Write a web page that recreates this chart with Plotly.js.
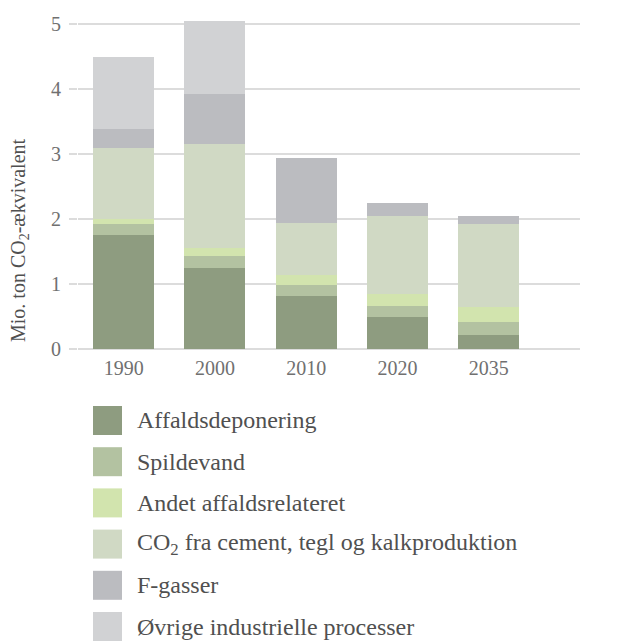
<!DOCTYPE html>
<html>
<head>
<meta charset="utf-8">
<script src="https://cdn.plot.ly/plotly-3.0.1.min.js"></script>
<style>html,body{margin:0;padding:0;background:#fff;}#chart{width:619px;height:641px;}</style>
</head>
<body>
<div id="chart"></div>
<script>
const years = ["1990", "2000", "2010", "2020", "2035"];
const seriesNames = ["Affaldsdeponering", "Spildevand", "Andet affaldsrelateret", "CO<sub>2</sub> fra cement, tegl og kalkproduktion", "F-gasser", "Øvrige industrielle processer"];
const affaldsdeponering = [1.75, 1.25, 0.82, 0.49, 0.22];
const spildevand = [0.17, 0.18, 0.17, 0.17, 0.20];
const andetAffald = [0.08, 0.12, 0.15, 0.19, 0.22];
const co2Cement = [1.10, 1.60, 0.80, 1.20, 1.29];
const fGasser = [0.29, 0.78, 1.00, 0.20, 0.11];
const oevrige = [1.11, 1.11, 0, 0, 0];
const colors = ["#8e9c80", "#b3c2a1", "#d2e4ae", "#d0d9c4", "#bbbcc0", "#d1d2d4"];
const yTitle = "Mio. ton CO<sub>2</sub>-ækvivalent";

const allSeries = [affaldsdeponering, spildevand, andetAffald, co2Cement, fGasser, oevrige];
const FONT = "Liberation Serif, DejaVu Serif, serif";

const traces = allSeries.map((vals, i) => ({
  type: "bar",
  x: years,
  y: vals,
  name: seriesNames[i],
  marker: {color: colors[i], line: {width: 0}},
  width: 0.67,
  showlegend: false,
  hoverinfo: "y+name"
}));

// layout geometry
const W = 619, H = 641;
const mL = 78, mR = 39, mT = 11, mB = 292;
const pw = W - mL - mR, ph = H - mT - mB;
const px2x = p => (p - mL) / pw;
const py2y = p => (H - mB - p) / ph;

const shapes = [];
const annotations = [];
seriesNames.forEach((name, i) => {
  const top = 406 + i * 41.2;
  shapes.push({
    type: "rect", xref: "paper", yref: "paper",
    x0: px2x(93), x1: px2x(122), y0: py2y(top + 29), y1: py2y(top),
    fillcolor: colors[i], line: {width: 0}
  });
  annotations.push({
    xref: "paper", yref: "paper", x: px2x(135), y: py2y(top + 14.5),
    xanchor: "left", yanchor: "middle", showarrow: false,
    text: name, font: {family: FONT, size: 24, color: "#505050"}
  });
});
annotations.push({
  xref: "paper", yref: "paper", x: px2x(19), y: py2y(240),
  xanchor: "center", yanchor: "middle", showarrow: false, textangle: -90,
  text: yTitle, font: {family: FONT, size: 20, color: "#505050"}
});

const layout = {
  width: W, height: H,
  margin: {l: mL, r: mR, t: mT, b: mB, pad: 0},
  paper_bgcolor: "#fff", plot_bgcolor: "#fff",
  barmode: "stack",
  font: {family: FONT, color: "#707070"},
  xaxis: {
    type: "category", range: [-0.5, 5], showgrid: false, zeroline: false,
    showline: false, ticks: "", tickfont: {size: 20, color: "#707070"},
    ticklabelstandoff: 5
  },
  yaxis: {
    range: [0, 5.2], dtick: 1, tick0: 0, showgrid: true, gridcolor: "#dcdcdc", gridwidth: 1.5,
    zeroline: true, zerolinecolor: "#dcdcdc", zerolinewidth: 1.5,
    ticks: "outside", ticklen: 8, tickcolor: "#dcdcdc", tickwidth: 1.5,
    tickfont: {size: 20, color: "#707070"}, ticklabelstandoff: 4
  },
  shapes: shapes,
  annotations: annotations,
  showlegend: false
};

Plotly.newPlot("chart", traces, layout, {displayModeBar: false, staticPlot: true});
</script>
</body>
</html>
